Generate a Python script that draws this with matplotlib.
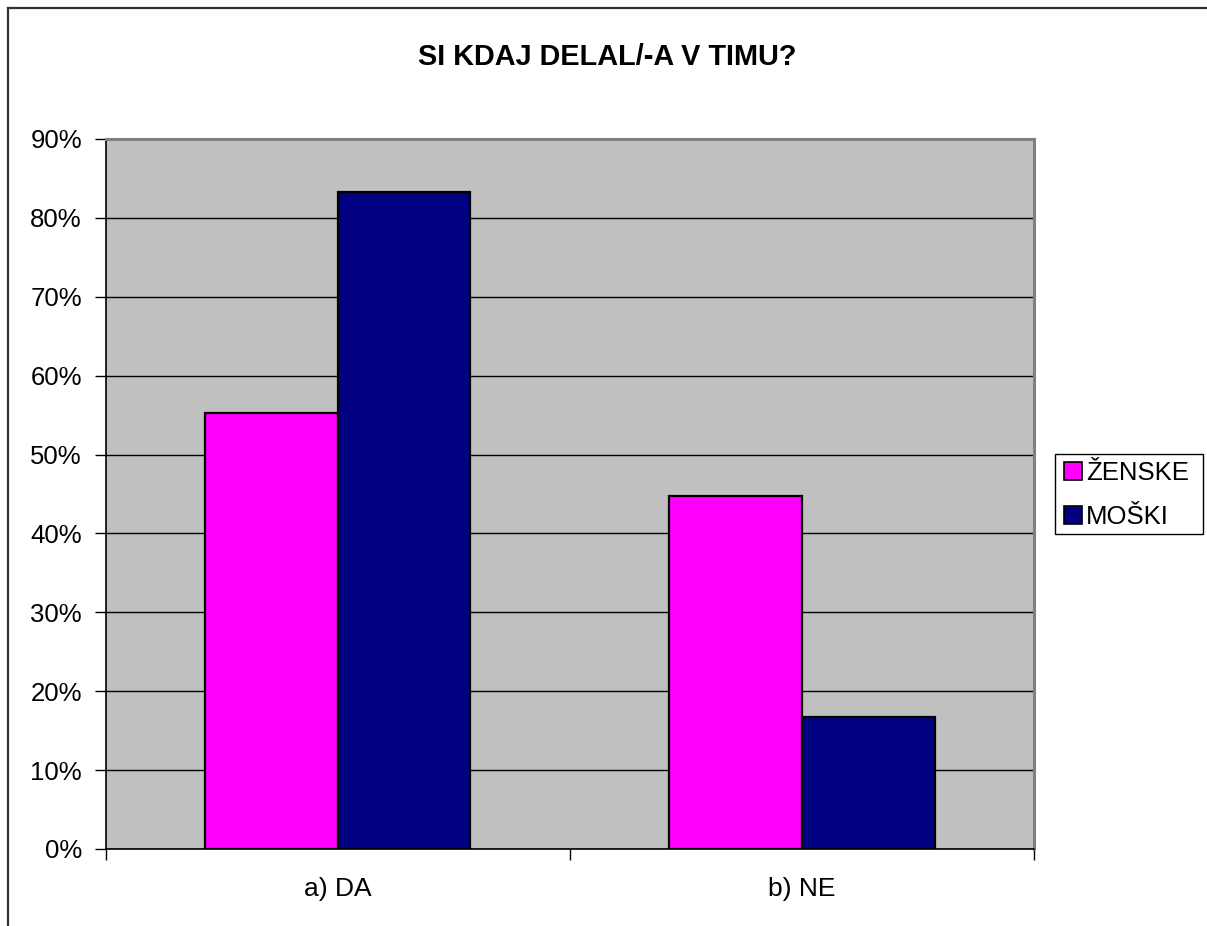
import matplotlib
matplotlib.use("Agg")
import matplotlib.pyplot as plt
from matplotlib.lines import Line2D
from matplotlib.patches import Patch, Rectangle
import numpy as np

plt.rcParams['font.family'] = ['Liberation Sans', 'DejaVu Sans']

categories = ["a) DA", "b) NE"]
series_names = ["ŽENSKE", "MOŠKI"]
zenske = [55.3, 44.7]
moski = [83.3, 16.7]
colors = ["#FF00FF", "#000080"]
yticks = [0, 10, 20, 30, 40, 50, 60, 70, 80, 90]
title = "SI KDAJ DELAL/-A V TIMU?"

W, H = 1207, 926
fig = plt.figure(figsize=(W / 100, H / 100), dpi=100)
fig.patch.set_facecolor("white")

ax = fig.add_axes([105.5 / W, (H - 849) / H, (1034 - 105.5) / W, 710 / H])
ax.set_facecolor("#C0C0C0")

x = np.arange(len(categories))
bw = 1 / 3.5
for i, (vals, c) in enumerate(zip([zenske, moski], colors)):
    ax.bar(x + (i - 0.5) * bw, vals, width=bw, color=c, edgecolor="black",
           linewidth=1.6, zorder=3, label=series_names[i])

ax.set_xlim(-0.5, len(categories) - 0.5)
ax.set_ylim(0, 90)
ax.set_yticks(yticks)
ax.set_yticklabels([f"{v}%" for v in yticks], fontsize=18.5)
ax.yaxis.grid(True, color="black", linewidth=1.0, zorder=1)
ax.set_axisbelow(True)

# category boundary ticks on x axis, labels at category centres
ax.set_xticks([-0.5, 0.5, 1.5])
ax.set_xticklabels([])
ax.set_xticks(x, minor=True)
ax.set_xticklabels(categories, minor=True, fontsize=19)
ax.tick_params(axis="x", which="minor", length=0, pad=20)
ax.tick_params(axis="x", which="major", length=8, width=1, direction="out", color="black")
ax.tick_params(axis="y", length=8, width=1, direction="out", pad=9, color="black")

ax.spines["left"].set_color("black")
ax.spines["bottom"].set_color("black")
ax.spines["left"].set_linewidth(1.2)
ax.spines["bottom"].set_linewidth(1.2)
for s in ("top", "right"):
    ax.spines[s].set_color("#808080")
    ax.spines[s].set_linewidth(2.2)

fig.text(607 / W, 1 - 57 / H, title, ha="center", va="center",
         fontsize=20.8, fontweight="bold")

# outer chart frame
fig.add_artist(Line2D([8 / W, 8 / W], [0, 1 - 8 / H], color="#333333", linewidth=1.6,
                      transform=fig.transFigure))
fig.add_artist(Line2D([8 / W, 1], [1 - 8 / H, 1 - 8 / H], color="#333333", linewidth=1.6,
                      transform=fig.transFigure))

# legend box
fig.add_artist(Rectangle((1055 / W, 1 - 534 / H), 148 / W, 80 / H,
                         transform=fig.transFigure, facecolor="white",
                         edgecolor="black", linewidth=1.0, zorder=4))
handles = [Patch(facecolor=c, edgecolor="black", linewidth=1.2) for c in colors]
leg = fig.legend(handles, series_names, loc="center left",
                 bbox_to_anchor=(1055 / W, 1 - 495 / H), fontsize=18.5,
                 frameon=False, borderpad=0.35,
                 handlelength=0.7, handleheight=0.7, handletextpad=0.15,
                 labelspacing=0.75, borderaxespad=0)
leg.set_zorder(5)

fig.savefig("out.png", dpi=100, facecolor="white")
